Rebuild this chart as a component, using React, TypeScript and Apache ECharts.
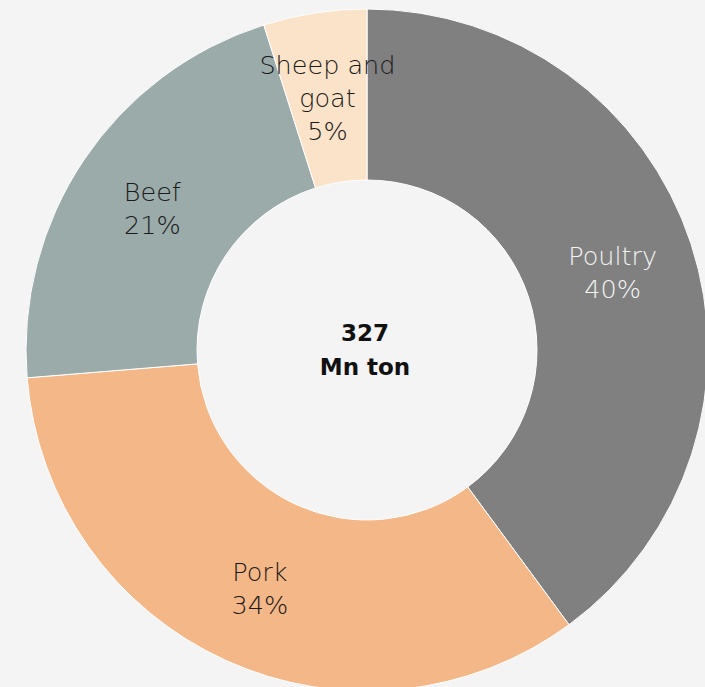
import React, { useEffect, useRef } from "react";
import * as echarts from "echarts";

const categories = ["Poultry", "Pork", "Beef", "Sheep and goat"];
const labelNames = ["Poultry", "Pork", "Beef", "Sheep and\ngoat"];
const volumesMnTon = [130.5, 110.5, 70, 16];
const colors = ["#808080", "#f4b788", "#9aabaa", "#fae3c9"];
const labelColors = ["#f4f4f4", "#1a1a1a", "#1a1a1a", "#1a1a1a"];
const centerLines = ["327", "Mn ton"];

export default function App() {
  const ref = useRef<HTMLDivElement>(null);
  useEffect(() => {
    document.body.style.margin = "0";
    document.body.style.background = "#f4f4f4";
    const chart = echarts.init(ref.current!, undefined, { renderer: "svg" });
    chart.setOption({
      animation: false,
      backgroundColor: "#f4f4f4",
      title: {
        text: centerLines.join("\n"),
        left: 360,
        top: 345,
        textAlign: "center",
        textVerticalAlign: "middle",
        textStyle: {
          fontFamily: "DejaVu Sans",
          fontWeight: "bold",
          fontSize: 23,
          lineHeight: 34,
          color: "#111111",
        },
      },
      series: [
        {
          type: "pie",
          center: [367, 350],
          radius: [170, 341],
          startAngle: 90,
          clockwise: true,
          itemStyle: { borderColor: "#ffffff", borderWidth: 1 },
          label: {
            position: "inside",
            fontFamily: "DejaVu Sans",
            fontWeight: 200,
            fontSize: 25.5,
            lineHeight: 33,
            formatter: (p: any) => {
              const lines = `${labelNames[p.dataIndex]}\n${Math.round(p.percent)}%`.split("\n");
              return ["{s| }", ...lines.map((l) => `{n|${l}}`)].join("\n");
            },
            rich: {
              s: { fontSize: 1, lineHeight: 6 },
              n: { fontFamily: "DejaVu Sans", fontWeight: 200, fontSize: 25.5, lineHeight: 33 },
            },
          },
          labelLine: { show: false },
          emphasis: { disabled: true },
          data: categories.map((c, i) => ({
            name: c,
            value: volumesMnTon[i],
            itemStyle: { color: colors[i] },
            label: { color: labelColors[i] },
          })),
        },
      ],
    });
    return () => chart.dispose();
  }, []);
  return <div ref={ref} style={{ width: 705, height: 687 }} />;
}
